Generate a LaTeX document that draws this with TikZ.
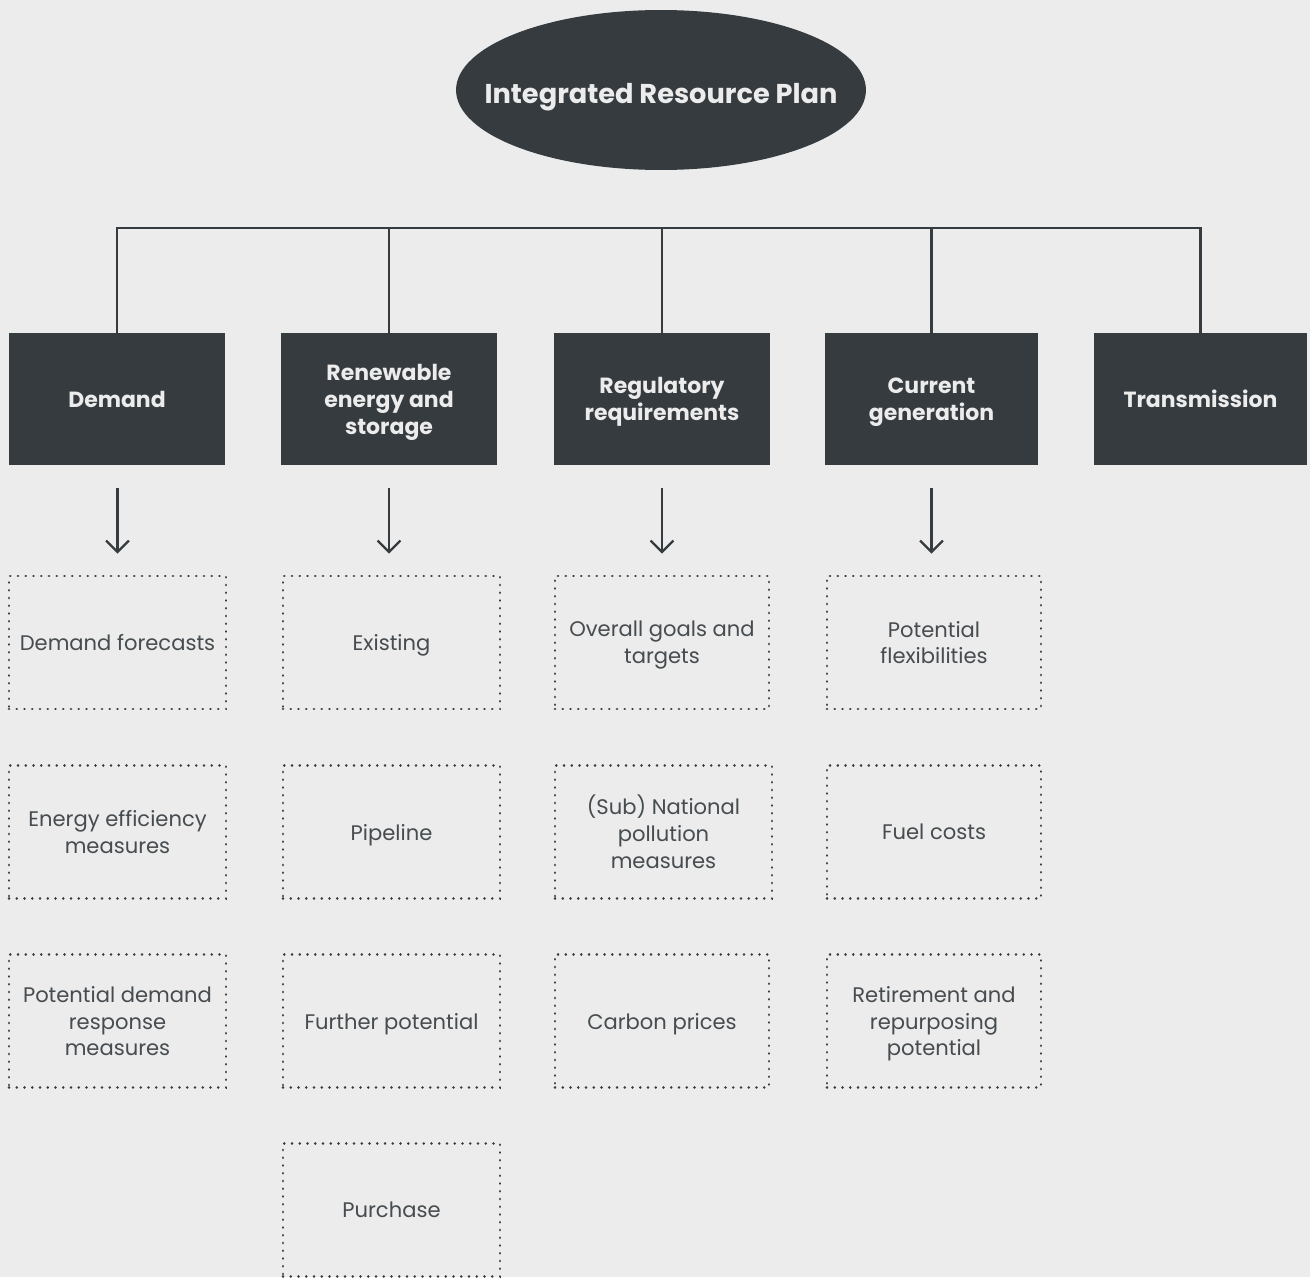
\documentclass[tikz,border=0pt]{standalone}
\usepackage{fontspec}
\setmainfont{Poppins}
\usetikzlibrary{shapes.geometric, arrows.meta, calc, positioning}

\definecolor{bgcol}{HTML}{EBECEB}
\definecolor{darkcol}{HTML}{353B3F}
\definecolor{textcol}{HTML}{474C50}

\tikzset{
    plan/.style = {ellipse, fill=darkcol, minimum width=8.2cm, minimum height=3.2cm, inner sep=0pt},
    planlabel/.style = {text=bgcol, inner sep=0pt, yshift=-3.8pt, font=\bfseries\fontsize{15.5}{18}\selectfont},
    topic/.style = {rectangle, fill=darkcol, text=bgcol, minimum height=2.64cm, inner sep=0pt, text depth=-4pt, align=center, font=\bfseries\fontsize{12.5}{15.3}\selectfont},
    item/.style = {rectangle, draw=darkcol, line width=1.6pt, line cap=round, dash pattern=on 0.01pt off 4.4pt, text=textcol, minimum width=4.34cm, minimum height=2.66cm, inner sep=0pt, text depth=-3.4pt, align=center, font=\fontsize{12}{15.3}\selectfont},
    link/.style = {draw=darkcol, line width=1.4pt},
    down/.style = {link, -{Straight Barb[length=6.5pt, width=13pt, line width=1.3pt]}, shorten <=0.46cm, shorten >=0.42cm}
}

\begin{document}
\begin{tikzpicture}[x=0.02cm, y=-0.02cm]
            % background
            \fill[bgcol] (0,0) rectangle (1310,1277);
            \useasboundingbox (0,0) rectangle (1310,1277);

            \node[plan, label={[planlabel]center:Integrated Resource Plan}] (irp) at (661,90) {};
            \coordinate (bus) at (661,228);

            % top level
            \node[topic, minimum width=4.32cm] (demand) at (117,399) {Demand};
            \node[topic, minimum width=4.32cm] (renew) at (389,399) {Renewable\\energy and\\storage};
            \node[topic, minimum width=4.32cm] (reg) at (662,399) {Regulatory\\requirements};
            \node[topic, minimum width=4.26cm] (gen) at (931.5,399) {Current\\generation};
            \node[topic, minimum width=4.26cm] (trans) at (1200.5,399) {Transmission};

            \draw[link] (demand.north) -- (demand.north |- bus) -- (trans.north |- bus) -- (trans.north);
            \draw[link] (renew.north) -- (renew.north |- bus);
            \draw[link] (reg.north) -- (reg.north |- bus);
            \draw[link] (gen.north) -- (gen.north |- bus);

            % demand
            \node[item] (dfc) at (117.5,642.5) {Demand forecasts};
            \node[item] (eff) at (117.5,832) {Energy efficiency\\measures};
            \node[item] (resp) at (117.5,1021) {Potential demand\\response\\measures};

            % renewables
            \node[item] (exist) at (391.5,642.5) {Existing};
            \node[item] (pipe) at (391.5,832) {Pipeline};
            \node[item] (further) at (391.5,1021) {Further potential};
            \node[item] (purch) at (391.5,1210) {Purchase};

            % regulation
            \node[item, minimum width=4.28cm] (goals) at (662,642.5) {Overall goals and\\targets};
            \node[item] (poll) at (663.5,832) {(Sub) National\\pollution\\measures};
            \node[item, minimum width=4.28cm] (carbon) at (662,1021) {Carbon prices};

            % generation
            \node[item, minimum width=4.28cm] (flex) at (934,642.5) {Potential\\flexibilities};
            \node[item, minimum width=4.28cm] (fuel) at (934,832) {Fuel costs};
            \node[item, minimum width=4.28cm] (retire) at (934,1021) {Retirement and\\repurposing\\potential};

            \draw[down] (demand.south -| dfc.north) -- (dfc.north);
            \draw[down] (renew.south) -- (renew.south |- exist.north);
            \draw[down] (reg.south) -- (reg.south |- goals.north);
            \draw[down] (gen.south) -- (gen.south |- flex.north);
        \end{tikzpicture}
\end{document}
